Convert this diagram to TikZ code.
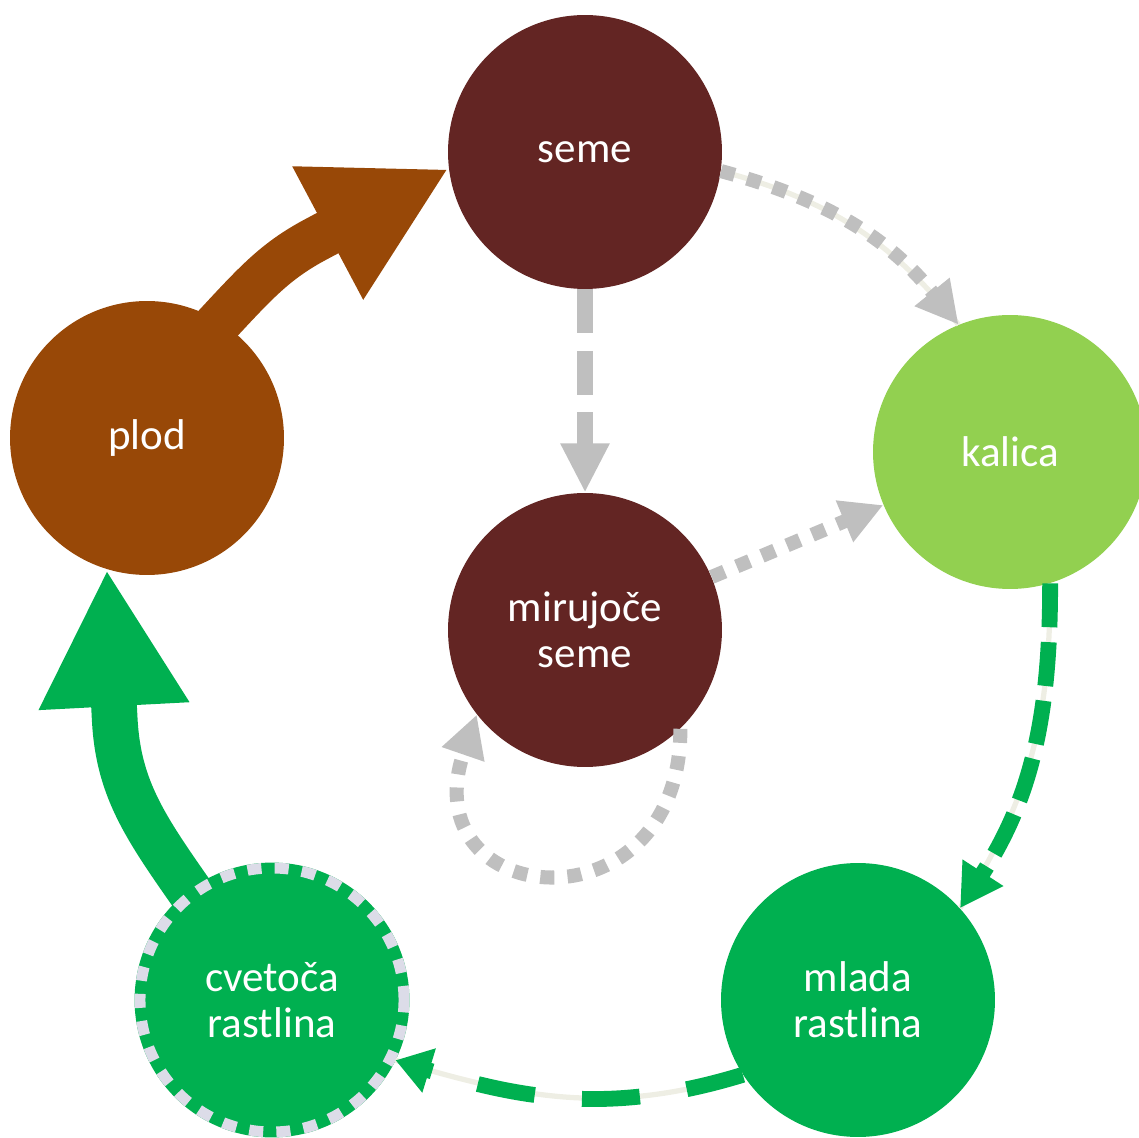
\documentclass[tikz,border=0pt]{standalone}
\usepackage{fontspec}
\setmainfont{Carlito}
\usetikzlibrary{arrows.meta,backgrounds,calc}
\definecolor{seedbrown}{HTML}{632523}
\definecolor{fruitbrown}{HTML}{984807}
\definecolor{sprout}{HTML}{92D050}
\definecolor{leaf}{HTML}{00B050}
\definecolor{greyarrow}{HTML}{BFBFBF}
\definecolor{lilac}{HTML}{DCDCE8}
\definecolor{pale}{HTML}{EEEEE4}
\begin{document}
\begin{tikzpicture}[x=0.02cm,y=0.02cm]
                    \tikzstyle{stage}=[circle, inner sep=0pt, minimum size=5.48cm, text=white, align=center, font=\fontsize{24.5}{26}\selectfont]
                    \tikzstyle{bigarrow}=[line width=26pt, -{Triangle[length=78pt,width=80pt]}]
                    \tikzstyle{greydot}=[greyarrow, line width=8pt, dash pattern=on 8pt off 7.5pt, -{Triangle[length=24pt,width=24pt]}]
                    \tikzstyle{greydash}=[greyarrow, line width=9pt, dash pattern=on 25pt off 10pt, -{Triangle[length=28pt,width=26pt]}]
                    \tikzstyle{greendash}=[leaf, line width=9pt, dash pattern=on 25pt off 8.5pt, -{Triangle[length=24pt,width=26pt]}]
                    \tikzstyle{underlay}=[preaction={draw=pale, line width=3pt, solid, -}]
                    \useasboundingbox (0,0) rectangle (1139,1137);
                    \node[stage, fill=seedbrown] (seme) at (585,985) {seme};
                    \node[stage, fill=sprout] (kalica) at (1010,685) {kalica};
                    \node[stage, fill=seedbrown] (miru) at (585,507) {mirujoče\\seme};
                    \node[stage, fill=fruitbrown] (plod) at (147,699) {plod};
                    \node[stage, fill=leaf] (mlada) at (858,137) {mlada\\rastlina};
                    \node[stage, fill=leaf, minimum size=5.28cm, draw=leaf, line width=6.2pt,
                          postaction={draw=lilac, dash pattern=on 8pt off 7.5pt}] (cvet) at (272,137) {cvetoča\\rastlina};
                    \coordinate (brownneck) at ($(seme.187)+(208:150)$);
                    \coordinate (greenneck) at ($(plod.253)+(273:150)$);
                    \begin{scope}[on background layer]
                    \draw[bigarrow, fruitbrown, shorten <=-12pt] (plod.58) to[out=47,in=208] (brownneck) -- (seme.187);
                    \draw[bigarrow, leaf, shorten <=-12pt] (cvet.127) to[out=125,in=-87] (greenneck) -- (plod.253);
                    \end{scope}
                    \draw[greydot, underlay] (seme.-8) to[out=-15,in=129] (kalica.112);
                    \draw[greydash] (seme) -- (miru);
                    \draw[greydot] (miru) -- (kalica);
                    \draw[greydot] (miru.-46) to[out=-90,in=-109,looseness=2.6] (miru.218);
                    \draw[greendash, underlay] (kalica.-73) to[out=-90,in=57] (mlada.42);
                    \draw[greendash, underlay, dash pattern=on 33pt off 27pt, -{Triangle[length=20pt,width=25pt]}] (mlada.213) to[out=197,in=-17] (cvet.-26);
                \end{tikzpicture}
\end{document}
